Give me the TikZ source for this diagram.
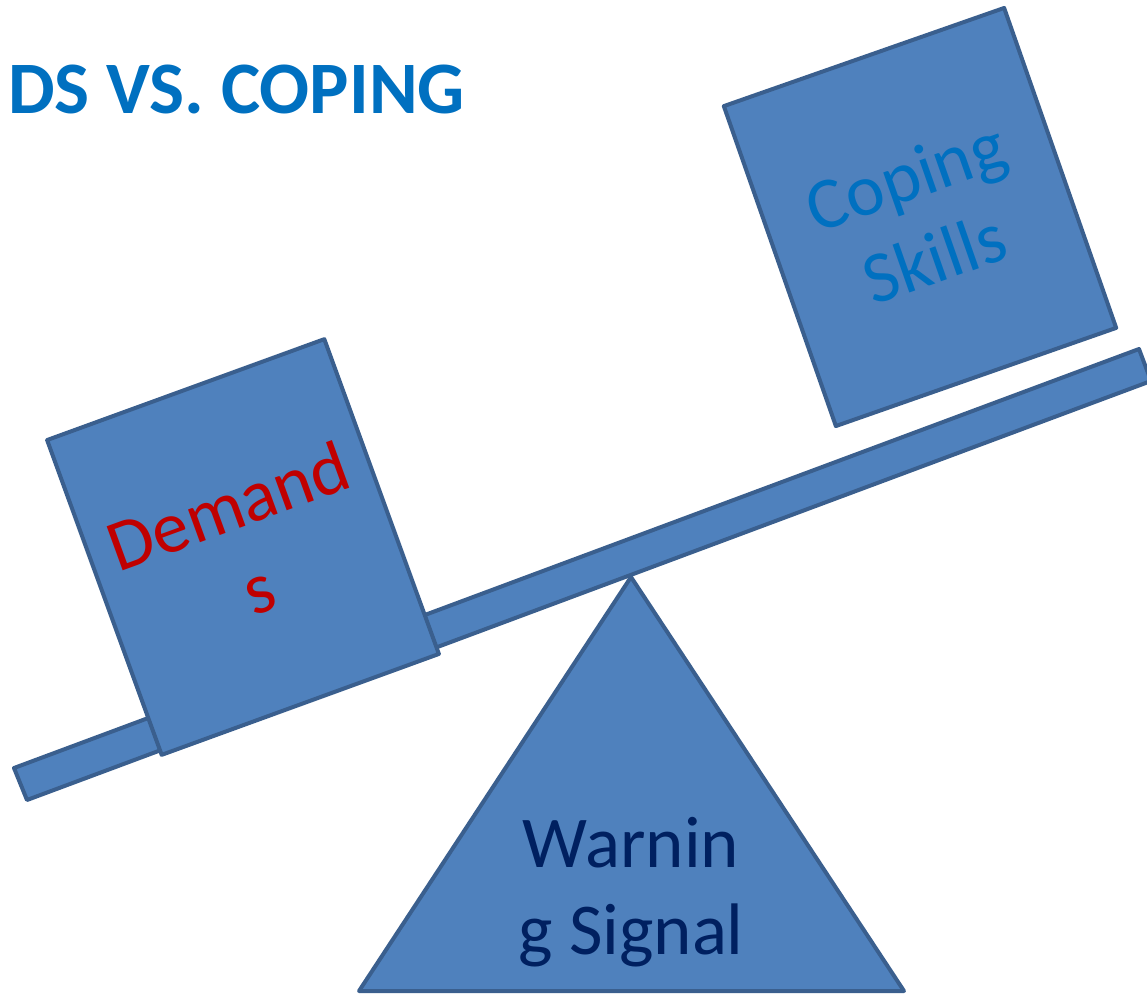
\documentclass[tikz,border=0pt]{standalone}
\usepackage{fontspec}
\setmainfont{Carlito}
\usepackage{tikz}
\usetikzlibrary{positioning}
\definecolor{boxfill}{HTML}{4F81BD}
\definecolor{boxline}{HTML}{3A5F8E}
\definecolor{titleblue}{HTML}{0070C0}
\definecolor{demandred}{HTML}{C00000}
\definecolor{navy}{HTML}{002060}
\tikzset{
shape_part/.style={draw=boxline, fill=boxfill, line width=4pt, line join=round},
weight_box/.style={rectangle, shape_part, align=center, inner sep=0pt, font=\fontsize{73}{87}\selectfont},
title_text/.style={anchor=base west, inner sep=0pt, text=titleblue, font=\bfseries\fontsize{74}{88}\selectfont}
}

\begin{document}
\begin{tikzpicture}[x=1pt, y=-1pt]
    \useasboundingbox (0,0) rectangle (1147,994);
    \node[title_text] (title) at (8,113) {DS VS. COPING};
    % plank
    \coordinate (plank_a) at (14,768);
    \coordinate (plank_b) at (1139,349);
    \coordinate (plank_c) at (1151,381);
    \coordinate (plank_d) at (27,800);
    \draw[shape_part] (plank_a) -- (plank_b) -- (plank_c) -- (plank_d) -- cycle;
    % weights
    \node[weight_box, rotate=20, minimum width=295pt, minimum height=335pt, text=demandred] (demands) at (243,547) {Demand\\s};
    \node[weight_box, rotate=19.3, minimum width=297pt, minimum height=339pt, text=titleblue] (coping) at (920,217) {Coping\\Skills};
    % fulcrum
    \coordinate (top) at (631,577);
    \coordinate (base_l) at (359,991);
    \coordinate (base_r) at (904,991);
    \draw[shape_part] (top) -- (base_r) -- (base_l) -- cycle;
    \node[align=center, text=navy, font=\fontsize{73}{87}\selectfont] (signal) at (631,892) {Warnin\\g Signal};
\end{tikzpicture}
\end{document}
